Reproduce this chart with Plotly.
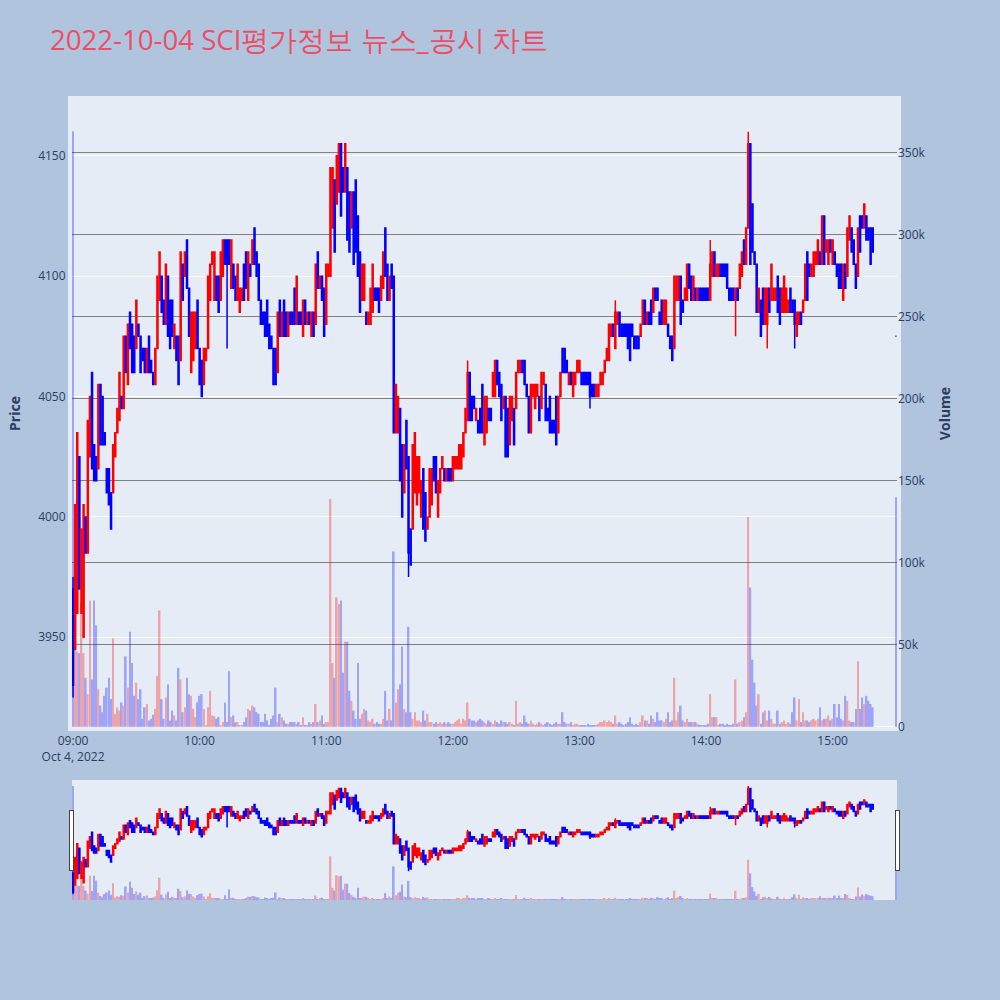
import pandas as pd
import plotly.graph_objects as go
from plotly.subplots import make_subplots

# 1-minute bars 09:00-15:19 plus the 15:30 closing auction
times = pd.date_range("2022-10-04 09:00", periods=380, freq="min").tolist() + [pd.Timestamp("2022-10-04 15:30")]

open_ = [
    3970, 3945, 3960, 4025, 3960, 3950, 4000, 3985, 4025, 4060,
    4030, 4025, 4020, 4055, 4050, 4035, 4020, 4020, 4010, 4010,
    4025, 4035, 4040, 4050, 4045, 4075, 4055, 4085, 4080, 4075,
    4070, 4080, 4075, 4070, 4070, 4060, 4075, 4065, 4060, 4055,
    4070, 4090, 4100, 4090, 4080, 4100, 4090, 4090, 4070, 4075,
    4075, 4065, 4105, 4100, 4115, 4095, 4060, 4065, 4070, 4090,
    4070, 4065, 4055, 4065, 4070, 4090, 4105, 4090, 4100, 4100,
    4090, 4100, 4115, 4115, 4115, 4095, 4105, 4100, 4090, 4085,
    4090, 4105, 4110, 4090, 4105, 4105, 4120, 4110, 4105, 4090,
    4085, 4085, 4090, 4080, 4075, 4070, 4070, 4060, 4090, 4075,
    4090, 4085, 4075, 4085, 4085, 4095, 4080, 4085, 4085, 4075,
    4090, 4080, 4085, 4075, 4085, 4080, 4110, 4095, 4100, 4095,
    4080, 4100, 4100, 4120, 4140, 4130, 4135, 4155, 4145, 4135,
    4145, 4135, 4120, 4135, 4140, 4125, 4110, 4090, 4090, 4085,
    4080, 4080, 4085, 4095, 4095, 4095, 4090, 4095, 4120, 4105,
    4090, 4105, 4100, 4035, 4035, 4045, 4030, 4010, 4040, 4025,
    3995, 3995, 4010, 4005, 4010, 4000, 4020, 4010, 3995, 4000,
    4005, 4025, 4025, 4000, 4010, 4020, 4020, 4015, 4020, 4020,
    4015, 4020, 4020, 4020, 4020, 4025, 4035, 4040, 4060, 4050,
    4050, 4040, 4040, 4045, 4055, 4030, 4035, 4045, 4045, 4050,
    4050, 4065, 4060, 4055, 4045, 4050, 4045, 4030, 4040, 4045,
    4045, 4060, 4060, 4065, 4065, 4055, 4050, 4035, 4050, 4045,
    4050, 4050, 4045, 4055, 4055, 4045, 4050, 4040, 4040, 4050,
    4035, 4050, 4070, 4070, 4065, 4055, 4060, 4050, 4055, 4060,
    4060, 4060, 4060, 4060, 4060, 4060, 4055, 4055, 4050, 4050,
    4055, 4055, 4060, 4065, 4065, 4075, 4080, 4070, 4080, 4085,
    4080, 4080, 4080, 4080, 4080, 4080, 4075, 4075, 4075, 4075,
    4080, 4090, 4080, 4085, 4090, 4085, 4095, 4095, 4085, 4090,
    4080, 4080, 4080, 4075, 4075, 4070, 4090, 4090, 4100, 4090,
    4090, 4090, 4105, 4100, 4090, 4095, 4090, 4095, 4095, 4095,
    4095, 4095, 4090, 4100, 4110, 4100, 4100, 4105, 4105, 4105,
    4105, 4095, 4095, 4095, 4090, 4095, 4095, 4100, 4115, 4105,
    4120, 4155, 4130, 4110, 4105, 4085, 4090, 4095, 4080, 4080,
    4095, 4090, 4090, 4090, 4100, 4095, 4085, 4085, 4085, 4085,
    4095, 4090, 4090, 4075, 4080, 4085, 4085, 4090, 4110, 4105,
    4100, 4100, 4105, 4105, 4110, 4105, 4125, 4110, 4105, 4115,
    4105, 4110, 4105, 4105, 4105, 4090, 4105, 4100, 4115, 4120,
    4115, 4105, 4100, 4125, 4125, 4120, 4125, 4120, 4120, 4120,
    4075,
]

high = [
    3975, 4005, 4035, 4025, 3995, 4005, 4000, 4040, 4050, 4060,
    4030, 4025, 4055, 4055, 4050, 4035, 4020, 4020, 4010, 4030,
    4035, 4045, 4060, 4050, 4075, 4075, 4080, 4085, 4080, 4075,
    4090, 4080, 4075, 4070, 4070, 4070, 4075, 4065, 4060, 4070,
    4100, 4110, 4100, 4090, 4105, 4100, 4090, 4090, 4080, 4075,
    4075, 4110, 4105, 4110, 4115, 4095, 4085, 4085, 4085, 4090,
    4070, 4065, 4070, 4070, 4100, 4105, 4110, 4110, 4100, 4100,
    4110, 4115, 4115, 4115, 4115, 4115, 4105, 4100, 4105, 4095,
    4095, 4105, 4110, 4110, 4105, 4115, 4120, 4110, 4105, 4090,
    4085, 4085, 4090, 4080, 4075, 4070, 4070, 4085, 4090, 4085,
    4090, 4085, 4085, 4085, 4085, 4095, 4100, 4085, 4085, 4090,
    4090, 4085, 4085, 4085, 4085, 4105, 4110, 4100, 4100, 4095,
    4105, 4105, 4145, 4145, 4140, 4150, 4155, 4155, 4145, 4155,
    4145, 4135, 4135, 4135, 4140, 4125, 4110, 4105, 4105, 4085,
    4085, 4095, 4105, 4095, 4095, 4095, 4100, 4110, 4120, 4105,
    4100, 4105, 4100, 4055, 4050, 4045, 4030, 4030, 4040, 4025,
    3995, 4030, 4035, 4025, 4025, 4015, 4020, 4010, 4000, 4020,
    4020, 4025, 4025, 4015, 4020, 4025, 4020, 4020, 4020, 4020,
    4025, 4025, 4025, 4030, 4030, 4035, 4045, 4065, 4060, 4050,
    4050, 4045, 4040, 4045, 4055, 4050, 4050, 4045, 4045, 4060,
    4065, 4065, 4060, 4055, 4050, 4050, 4045, 4050, 4050, 4045,
    4060, 4065, 4065, 4065, 4065, 4055, 4050, 4055, 4055, 4055,
    4055, 4050, 4060, 4060, 4055, 4045, 4050, 4040, 4040, 4050,
    4050, 4060, 4070, 4070, 4065, 4060, 4060, 4060, 4060, 4065,
    4065, 4060, 4060, 4060, 4060, 4060, 4055, 4055, 4055, 4055,
    4060, 4060, 4065, 4070, 4080, 4080, 4080, 4090, 4085, 4085,
    4080, 4080, 4080, 4080, 4080, 4080, 4075, 4075, 4075, 4080,
    4090, 4090, 4085, 4085, 4090, 4095, 4095, 4095, 4085, 4090,
    4090, 4090, 4080, 4075, 4075, 4100, 4100, 4100, 4100, 4090,
    4095, 4105, 4105, 4100, 4100, 4095, 4095, 4095, 4095, 4095,
    4095, 4095, 4115, 4110, 4110, 4105, 4105, 4105, 4105, 4105,
    4105, 4095, 4095, 4095, 4095, 4095, 4105, 4110, 4115, 4120,
    4160, 4155, 4130, 4110, 4105, 4095, 4090, 4095, 4095, 4095,
    4095, 4105, 4095, 4095, 4100, 4095, 4095, 4100, 4095, 4090,
    4095, 4090, 4090, 4085, 4085, 4085, 4090, 4105, 4110, 4105,
    4105, 4110, 4110, 4115, 4110, 4125, 4125, 4115, 4115, 4115,
    4115, 4110, 4105, 4105, 4105, 4105, 4105, 4120, 4125, 4120,
    4115, 4105, 4120, 4125, 4125, 4130, 4125, 4120, 4120, 4120,
    4075,
]

low = [
    3925, 3945, 3960, 3970, 3960, 3950, 3985, 3985, 4025, 4020,
    4015, 4015, 4020, 4030, 4030, 4030, 4010, 4005, 3995, 4010,
    4025, 4035, 4040, 4045, 4045, 4060, 4055, 4070, 4060, 4060,
    4070, 4075, 4060, 4065, 4060, 4060, 4060, 4060, 4055, 4055,
    4070, 4090, 4085, 4080, 4080, 4075, 4070, 4075, 4070, 4065,
    4055, 4065, 4090, 4100, 4095, 4075, 4060, 4065, 4070, 4070,
    4055, 4050, 4055, 4065, 4070, 4090, 4105, 4090, 4090, 4085,
    4090, 4100, 4105, 4070, 4105, 4095, 4095, 4090, 4090, 4085,
    4090, 4090, 4095, 4090, 4100, 4105, 4105, 4100, 4090, 4080,
    4080, 4075, 4075, 4070, 4070, 4055, 4055, 4060, 4075, 4075,
    4075, 4075, 4075, 4080, 4080, 4080, 4080, 4080, 4080, 4075,
    4080, 4080, 4080, 4075, 4075, 4080, 4095, 4095, 4090, 4075,
    4080, 4100, 4100, 4120, 4110, 4130, 4135, 4125, 4135, 4135,
    4115, 4110, 4120, 4105, 4110, 4100, 4085, 4090, 4090, 4080,
    4080, 4080, 4085, 4090, 4090, 4085, 4090, 4095, 4100, 4090,
    4090, 4095, 4035, 4035, 4035, 4015, 4000, 4010, 4020, 3975,
    3980, 3995, 4010, 4005, 4010, 4000, 3995, 3990, 3995, 4000,
    4005, 4015, 4010, 4000, 4010, 4020, 4015, 4015, 4015, 4015,
    4015, 4020, 4020, 4020, 4020, 4025, 4035, 4040, 4040, 4040,
    4045, 4040, 4035, 4035, 4035, 4030, 4035, 4040, 4040, 4050,
    4050, 4055, 4050, 4040, 4045, 4025, 4025, 4030, 4040, 4030,
    4045, 4060, 4060, 4060, 4055, 4050, 4035, 4035, 4050, 4045,
    4050, 4040, 4045, 4055, 4040, 4040, 4035, 4035, 4035, 4030,
    4035, 4050, 4060, 4060, 4060, 4055, 4055, 4050, 4055, 4060,
    4060, 4055, 4055, 4055, 4055, 4045, 4050, 4050, 4050, 4050,
    4055, 4055, 4060, 4065, 4065, 4075, 4075, 4070, 4080, 4075,
    4075, 4075, 4075, 4070, 4065, 4075, 4070, 4070, 4070, 4075,
    4080, 4080, 4080, 4080, 4080, 4085, 4090, 4090, 4080, 4080,
    4080, 4080, 4075, 4070, 4065, 4070, 4090, 4090, 4080, 4085,
    4090, 4090, 4095, 4090, 4090, 4090, 4090, 4090, 4090, 4090,
    4090, 4090, 4090, 4100, 4100, 4100, 4100, 4100, 4100, 4100,
    4095, 4090, 4090, 4090, 4075, 4090, 4095, 4100, 4105, 4105,
    4120, 4105, 4110, 4105, 4085, 4085, 4075, 4080, 4080, 4070,
    4085, 4090, 4090, 4090, 4085, 4080, 4085, 4085, 4085, 4085,
    4085, 4085, 4070, 4075, 4080, 4080, 4085, 4090, 4090, 4100,
    4100, 4100, 4105, 4105, 4105, 4105, 4105, 4110, 4105, 4110,
    4105, 4105, 4100, 4095, 4095, 4090, 4095, 4100, 4115, 4110,
    4105, 4095, 4100, 4110, 4120, 4120, 4115, 4115, 4105, 4110,
    4075,
]

close = [
    3930, 4005, 4035, 3970, 3995, 4005, 3985, 4040, 4050, 4020,
    4015, 4015, 4055, 4030, 4030, 4030, 4010, 4005, 3995, 4030,
    4035, 4045, 4060, 4045, 4075, 4060, 4080, 4070, 4060, 4060,
    4090, 4075, 4060, 4065, 4060, 4070, 4060, 4060, 4055, 4070,
    4100, 4110, 4085, 4080, 4105, 4075, 4070, 4075, 4080, 4065,
    4055, 4110, 4090, 4110, 4095, 4075, 4085, 4085, 4085, 4070,
    4055, 4050, 4070, 4070, 4100, 4105, 4110, 4110, 4090, 4085,
    4110, 4115, 4105, 4105, 4105, 4115, 4095, 4090, 4105, 4095,
    4095, 4090, 4095, 4110, 4100, 4115, 4105, 4100, 4090, 4080,
    4080, 4075, 4075, 4070, 4070, 4055, 4055, 4085, 4075, 4085,
    4075, 4075, 4085, 4080, 4080, 4080, 4100, 4080, 4080, 4090,
    4080, 4085, 4080, 4085, 4075, 4105, 4095, 4100, 4090, 4075,
    4105, 4105, 4145, 4145, 4110, 4150, 4155, 4125, 4135, 4155,
    4115, 4110, 4135, 4105, 4110, 4100, 4085, 4105, 4105, 4080,
    4085, 4095, 4105, 4090, 4090, 4085, 4100, 4110, 4100, 4090,
    4100, 4095, 4035, 4055, 4050, 4015, 4000, 4030, 4020, 3985,
    3980, 4030, 4035, 4025, 4025, 4015, 3995, 3990, 4000, 4020,
    4020, 4015, 4010, 4015, 4020, 4025, 4015, 4020, 4015, 4015,
    4025, 4025, 4025, 4030, 4030, 4035, 4045, 4060, 4040, 4040,
    4045, 4045, 4035, 4035, 4035, 4050, 4050, 4040, 4040, 4060,
    4065, 4055, 4050, 4040, 4050, 4025, 4025, 4050, 4050, 4030,
    4060, 4065, 4065, 4060, 4055, 4050, 4035, 4055, 4055, 4055,
    4055, 4040, 4060, 4060, 4040, 4040, 4035, 4035, 4035, 4030,
    4050, 4060, 4060, 4060, 4060, 4060, 4055, 4060, 4060, 4065,
    4065, 4055, 4055, 4055, 4055, 4050, 4050, 4050, 4055, 4055,
    4060, 4060, 4065, 4070, 4080, 4080, 4075, 4085, 4085, 4075,
    4075, 4075, 4075, 4070, 4065, 4075, 4070, 4070, 4070, 4080,
    4090, 4080, 4085, 4080, 4080, 4095, 4090, 4090, 4080, 4080,
    4090, 4090, 4075, 4070, 4065, 4100, 4100, 4100, 4080, 4085,
    4095, 4105, 4095, 4090, 4100, 4090, 4095, 4090, 4090, 4090,
    4090, 4090, 4105, 4110, 4100, 4105, 4105, 4100, 4100, 4100,
    4095, 4090, 4090, 4090, 4095, 4090, 4105, 4110, 4105, 4120,
    4155, 4105, 4110, 4105, 4085, 4095, 4075, 4080, 4095, 4095,
    4085, 4105, 4095, 4095, 4085, 4080, 4095, 4100, 4095, 4090,
    4085, 4085, 4080, 4085, 4085, 4080, 4090, 4105, 4090, 4100,
    4105, 4110, 4110, 4115, 4105, 4125, 4105, 4115, 4115, 4110,
    4115, 4105, 4100, 4095, 4095, 4105, 4095, 4120, 4125, 4110,
    4105, 4095, 4120, 4110, 4120, 4130, 4115, 4115, 4105, 4110,
    4075,
]

volume_k = [
    363, 63, 46, 45, 76, 45, 30, 20, 77, 29,
    77, 62, 23, 13, 9, 19, 24, 30, 17, 54,
    8, 12, 10, 15, 13, 43, 24, 58, 39, 19,
    27, 17, 23, 5, 12, 14, 4, 5, 7.5, 11,
    31, 71, 17, 5, 18, 26, 4, 10, 7, 4,
    36, 29, 9, 12, 30, 20, 19, 11, 6, 15,
    19, 20, 11, 1, 12, 22, 7, 6.5, 5, 6,
    1, 3, 15, 3, 34, 6, 7, 3, 3, 1,
    1, 3, 6, 11, 10, 13, 12, 9, 8, 3,
    3, 8, 4, 1, 5, 7, 24, 3, 8, 6,
    4, 2, 2, 3, 3, 3, 2, 3, 1, 6,
    1, 1, 3, 2, 3, 14, 3, 4, 7, 2,
    3, 3, 139, 39, 30, 79, 75, 77, 33, 52,
    52, 22, 16, 10, 5, 39, 5, 8, 11, 10,
    4, 3, 5, 2, 3, 2, 2, 5, 22, 4,
    11, 4, 107, 15, 23, 26, 49, 11, 9, 61,
    9, 5, 9, 4, 4, 3, 10, 4, 8, 3,
    3, 2, 3, 2, 3, 2, 3, 2, 3, 2,
    2, 3, 4, 5, 2, 5, 4, 15, 5, 4,
    4, 3, 4, 5, 4, 3, 2, 4, 3, 2,
    4, 3, 2, 4, 3, 3, 2, 3, 2, 1,
    16, 2, 3, 2, 7, 3, 2, 4, 2, 1,
    2, 3, 2, 1, 2, 3, 2, 1, 2, 3,
    2, 2, 9, 3, 2, 2, 3, 1, 2, 2,
    1, 1, 1, 1, 2, 1, 1, 1, 1, 2,
    3, 3, 4, 3, 4, 3, 2, 7, 2, 3,
    2, 1, 2, 3, 6, 2, 1, 2, 1, 3,
    7, 4, 4, 2, 7, 5, 3, 9, 4, 4,
    3, 5, 9, 3, 4, 30, 4, 9, 13, 4,
    3, 5, 3, 3, 3, 3, 2, 1, 1, 1,
    1, 2, 20, 6, 6, 6, 1, 2, 2, 1,
    2, 1, 1, 2, 29, 2, 3, 4, 6, 9,
    128, 85, 41, 27, 13, 20, 2, 9, 10, 4,
    10, 5, 2, 2, 10, 2, 3, 4, 2, 3,
    2, 9, 18, 4, 17, 3, 9, 4, 4, 3,
    4, 5, 4, 5, 12, 4, 5, 5, 7, 4,
    5, 14, 6, 14, 5, 4, 19, 16, 4, 3,
    3, 11, 40, 11, 18, 14, 19, 16, 14, 12,
    140,
]
volume = [v * 1000 for v in volume_k]

bar_colors = ["red" if c > o else "blue" for o, c in zip(open_, close)]

fig = make_subplots(specs=[[{"secondary_y": True}]])
fig.add_trace(
    go.Candlestick(
        x=times, open=open_, high=high, low=low, close=close,
        increasing=dict(line=dict(color="red", width=1.5), fillcolor="red"),
        decreasing=dict(line=dict(color="blue", width=1.5), fillcolor="blue"),
        showlegend=False, name="Price",
    ),
    secondary_y=False,
)
fig.add_trace(
    go.Bar(x=times, y=volume, marker=dict(color=bar_colors, line=dict(width=0)),
           opacity=0.3, showlegend=False, name="Volume"),
    secondary_y=True,
)

fig.update_layout(
    width=1000, height=1000,
    paper_bgcolor="lightsteelblue",
    plot_bgcolor="#E5ECF6",
    title=dict(text="2022-10-04 SCI평가정보 뉴스_공시 차트",
               font=dict(size=27.6, color="#EE4D63")),
    margin=dict(l=72, r=103, t=100, b=100),
    showlegend=False,
    xaxis=dict(domain=[0, 1],
               rangeslider=dict(visible=True, bgcolor="#E5ECF6"),
               showline=True, linewidth=4, linecolor="#E5ECF6", mirror=True),
)
fig.update_yaxes(title_text="<b>Price</b>", secondary_y=False,
                 range=[3912.7, 4173.2],
                 showline=True, linewidth=4, linecolor="#E5ECF6", mirror=True)
fig.update_yaxes(title_text="<b>Volume</b>", secondary_y=True,
                 range=[0, 382000], showgrid=True, gridcolor="gray")

fig.write_html(
    "out.html",
    config={"displayModeBar": False},
    post_script="document.body.style.margin='0';document.body.style.overflow='hidden';",
)
